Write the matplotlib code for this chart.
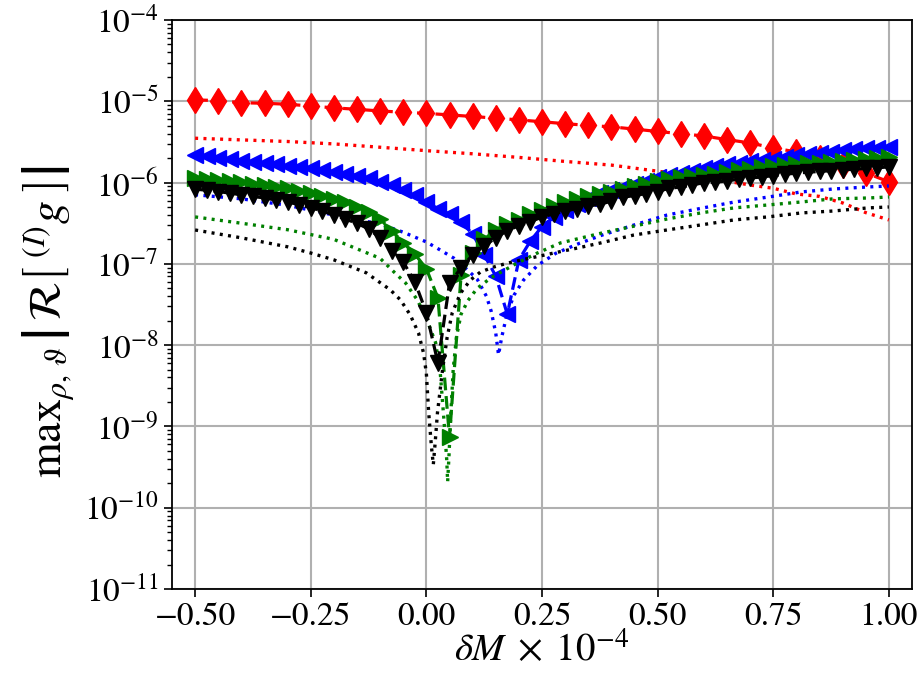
import matplotlib
matplotlib.use("Agg")
import matplotlib.pyplot as plt
from matplotlib.ticker import LogLocator, NullFormatter

plt.rcParams['font.family'] = ['STIXGeneral', 'DejaVu Serif']
plt.rcParams['mathtext.fontset'] = 'stix'

# ---------------- data ----------------
dM_red = [-0.50, -0.45, -0.40, -0.35, -0.30, -0.25, -0.20, -0.15, -0.10, -0.05,
          0.00, 0.05, 0.10, 0.15, 0.20, 0.25, 0.30, 0.35, 0.40, 0.45,
          0.50, 0.55, 0.60, 0.65, 0.70, 0.75, 0.80, 0.85, 0.90, 0.95, 1.00]
red_dashed = [1.04e-5, 1.02e-5, 9.6e-6, 9.45e-6, 9.2e-6, 8.75e-6, 8.3e-6, 7.97e-6, 7.6e-6, 7.33e-6,
              7.1e-6, 6.8e-6, 6.5e-6, 6.2e-6, 5.9e-6, 5.6e-6, 5.3e-6, 5.05e-6, 4.85e-6, 4.55e-6,
              4.25e-6, 4.0e-6, 3.74e-6, 3.38e-6, 3.07e-6, 2.67e-6, 2.38e-6, 2.0e-6, 1.65e-6, 1.32e-6, 1.02e-6]

dM_tri = [-0.500, -0.475, -0.450, -0.425, -0.400, -0.375, -0.350, -0.325, -0.300, -0.275,
          -0.250, -0.225, -0.200, -0.175, -0.150, -0.125, -0.100, -0.075, -0.050, -0.025,
          0.000, 0.025, 0.050, 0.075, 0.100, 0.125, 0.150, 0.175, 0.200, 0.225,
          0.250, 0.275, 0.300, 0.325, 0.350, 0.375, 0.400, 0.425, 0.450, 0.475,
          0.500, 0.525, 0.550, 0.575, 0.600, 0.625, 0.650, 0.675, 0.700, 0.725,
          0.750, 0.775, 0.800, 0.825, 0.850, 0.875, 0.900, 0.925, 0.950, 0.975, 1.000]

blue_dashed = [2.19e-6, 2.10e-6, 2.02e-6, 1.94e-6, 1.85e-6, 1.78e-6, 1.72e-6, 1.67e-6, 1.61e-6, 1.56e-6,
               1.51e-6, 1.44e-6, 1.36e-6, 1.29e-6, 1.22e-6, 1.14e-6, 1.03e-6, 9.23e-7, 8.13e-7, 7.08e-7,
               5.75e-7, 4.79e-7, 4.07e-7, 3.24e-7, 2.34e-7, 1.29e-7, 7.08e-8, 2.40e-8, 1.12e-7, 1.91e-7,
               2.88e-7, 3.72e-7, 4.57e-7, 5.50e-7, 6.46e-7, 7.41e-7, 8.13e-7, 8.91e-7, 9.55e-7, 1.06e-6,
               1.17e-6, 1.24e-6, 1.31e-6, 1.39e-6, 1.50e-6, 1.62e-6, 1.70e-6, 1.76e-6, 1.83e-6, 1.90e-6,
               1.97e-6, 2.07e-6, 2.18e-6, 2.25e-6, 2.32e-6, 2.40e-6, 2.49e-6, 2.59e-6, 2.64e-6, 2.69e-6, 2.74e-6]

green_dashed = [1.14e-6, 1.11e-6, 1.08e-6, 1.04e-6, 1.01e-6, 9.70e-7, 9.33e-7, 8.91e-7, 8.47e-7, 7.94e-7,
                7.41e-7, 6.84e-7, 6.31e-7, 5.69e-7, 5.07e-7, 4.37e-7, 3.55e-7, 2.57e-7, 1.82e-7, 1.32e-7,
                8.71e-8, 3.80e-8, 7.41e-10, 7.24e-8, 1.35e-7, 2.00e-7, 2.63e-7, 3.09e-7, 3.47e-7, 4.07e-7,
                4.62e-7, 5.13e-7, 5.69e-7, 6.31e-7, 6.76e-7, 7.24e-7, 7.67e-7, 8.32e-7, 9.02e-7, 9.66e-7,
                1.04e-6, 1.11e-6, 1.16e-6, 1.20e-6, 1.24e-6, 1.29e-6, 1.36e-6, 1.41e-6, 1.48e-6, 1.55e-6,
                1.60e-6, 1.65e-6, 1.70e-6, 1.73e-6, 1.76e-6, 1.80e-6, 1.83e-6, 1.87e-6, 1.93e-6, 2.00e-6, 2.07e-6]

black_dashed = [8.32e-7, 8.04e-7, 7.76e-7, 7.41e-7, 7.08e-7, 6.76e-7, 6.46e-7, 6.10e-7, 5.75e-7, 5.37e-7,
                4.90e-7, 4.47e-7, 3.98e-7, 3.55e-7, 3.16e-7, 2.69e-7, 2.09e-7, 1.45e-7, 1.05e-7, 6.03e-8,
                2.51e-8, 6.03e-9, 5.75e-8, 8.91e-8, 1.29e-7, 1.66e-7, 2.09e-7, 2.57e-7, 2.95e-7, 3.31e-7,
                3.76e-7, 4.12e-7, 4.47e-7, 4.79e-7, 5.13e-7, 5.43e-7, 5.89e-7, 6.61e-7, 6.92e-7, 7.33e-7,
                7.76e-7, 8.51e-7, 8.81e-7, 9.33e-7, 1.00e-6, 1.01e-6, 1.05e-6, 1.10e-6, 1.14e-6, 1.17e-6,
                1.22e-6, 1.26e-6, 1.31e-6, 1.34e-6, 1.37e-6, 1.40e-6, 1.43e-6, 1.46e-6, 1.49e-6, 1.52e-6, 1.56e-6]

dM_red_dot = [-0.5, -0.4, -0.3, -0.2, -0.1, 0.0, 0.1, 0.2, 0.3, 0.4, 0.5, 0.6, 0.7, 0.75, 0.8, 0.85, 0.9, 0.95, 1.0]
red_dotted = [3.51e-6, 3.35e-6, 3.20e-6, 2.99e-6, 2.72e-6, 2.47e-6, 2.26e-6, 2.04e-6, 1.82e-6, 1.64e-6,
              1.38e-6, 1.16e-6, 9.33e-7, 8.51e-7, 7.24e-7, 6.76e-7, 5.62e-7, 4.27e-7, 3.47e-7]

dM_blue_dot = [-0.5, -0.4, -0.3, -0.2, -0.1, -0.05, 0.0, 0.03, 0.06, 0.09, 0.11, 0.13, 0.14, 0.15, 0.156,
               0.163, 0.175, 0.19, 0.21, 0.24, 0.28, 0.33, 0.38, 0.45, 0.52, 0.6, 0.665, 0.74, 0.81, 0.88, 0.955, 1.0]
blue_dotted = [7.08e-7, 6.31e-7, 5.25e-7, 3.98e-7, 3.09e-7, 2.45e-7, 1.86e-7, 1.48e-7, 1.17e-7, 8.32e-8,
               6.46e-8, 3.98e-8, 2.63e-8, 1.41e-8, 7.59e-9, 1.26e-8, 2.51e-8, 4.17e-8, 6.31e-8, 9.55e-8,
               1.35e-7, 1.78e-7, 2.26e-7, 3.02e-7, 3.98e-7, 4.90e-7, 5.75e-7, 6.65e-7, 7.66e-7, 8.34e-7, 8.83e-7, 9.08e-7]

dM_green_dot = [-0.5, -0.4, -0.3, -0.2, -0.1, -0.07, -0.045, -0.02, 0.0, 0.02, 0.03, 0.038, 0.044, 0.046,
                0.049, 0.053, 0.058, 0.065, 0.075, 0.09, 0.11, 0.14, 0.19, 0.24, 0.29, 0.38, 0.45, 0.52,
                0.593, 0.665, 0.738, 0.81, 0.88, 0.955, 1.0]
green_dotted = [3.78e-7, 3.16e-7, 2.63e-7, 2.00e-7, 1.17e-7, 7.94e-8, 5.82e-8, 3.63e-8, 2.14e-8, 1.07e-8,
                4.57e-9, 1.20e-9, 3.89e-10, 2.09e-10, 4.47e-10, 1.48e-9, 5.01e-9, 1.26e-8, 2.40e-8, 3.55e-8,
                5.01e-8, 6.76e-8, 9.77e-8, 1.36e-7, 1.81e-7, 2.40e-7, 2.92e-7, 3.56e-7, 4.23e-7, 4.88e-7,
                5.30e-7, 5.77e-7, 6.31e-7, 6.46e-7, 6.65e-7]

dM_black_dot = [-0.5, -0.4, -0.3, -0.25, -0.2, -0.13, -0.078, -0.056, -0.035, -0.017, -0.006, 0.0, 0.005,
                0.011, 0.015, 0.019, 0.024, 0.035, 0.045, 0.056, 0.074, 0.095, 0.117, 0.145, 0.175, 0.2,
                0.24, 0.286, 0.33, 0.377, 0.448, 0.52, 0.593, 0.665, 0.738, 0.81, 0.88, 0.955, 1.0]
black_dotted = [2.61e-7, 2.09e-7, 1.62e-7, 1.36e-7, 1.12e-7, 7.76e-8, 4.79e-8, 3.60e-8, 2.36e-8, 1.41e-8,
                7.94e-9, 4.47e-9, 1.48e-9, 5.62e-10, 3.39e-10, 6.31e-10, 1.48e-9, 5.01e-9, 1.26e-8, 2.51e-8,
                4.37e-8, 6.31e-8, 7.94e-8, 9.12e-8, 1.02e-7, 1.10e-7, 1.23e-7, 1.40e-7, 1.58e-7, 1.81e-7,
                2.26e-7, 2.61e-7, 3.01e-7, 3.47e-7, 3.78e-7, 4.23e-7, 4.47e-7, 4.88e-7, 5.01e-7]

# ---------------- figure ----------------
W, H = 917, 675
fig = plt.figure(figsize=(W / 100, H / 100), dpi=100)
ax = fig.add_axes([172 / W, 1 - 589 / H, (912 - 172) / W, (589 - 20) / H])

lw = 2.3
ms = 11.5
dash = (0, (4.0, 1.8))
dot = (0, (0.9, 1.6))
ax.plot(dM_red, red_dashed, ls=dash, color='red', lw=lw, marker='d', ms=ms + 2, mec='red')
ax.plot(dM_red_dot, red_dotted, ls=dot, color='red', lw=2.4)
ax.plot(dM_tri, blue_dashed, ls=dash, color='blue', lw=lw, marker='<', ms=ms, mec='blue')
ax.plot(dM_blue_dot, blue_dotted, ls=dot, color='blue', lw=2.4)
ax.plot(dM_tri, green_dashed, ls=dash, color='green', lw=lw, marker='>', ms=ms, mec='green')
ax.plot(dM_green_dot, green_dotted, ls=dot, color='green', lw=2.4)
ax.plot(dM_tri, black_dashed, ls=dash, color='black', lw=lw, marker='v', ms=ms, mec='black')
ax.plot(dM_black_dot, black_dotted, ls=dot, color='black', lw=2.4)

ax.set_yscale('log')
ax.set_xlim(-0.55, 1.05)
ax.set_ylim(1e-11, 1e-4)
ax.set_xticks([-0.50, -0.25, 0.00, 0.25, 0.50, 0.75, 1.00])
ax.yaxis.set_major_locator(LogLocator(base=10, numticks=20))
ax.yaxis.set_minor_locator(LogLocator(base=10, subs=range(2, 10), numticks=20))
ax.yaxis.set_minor_formatter(NullFormatter())

ax.grid(True, which='major', color='#b0b0b0', lw=1.5)
ax.tick_params(axis='both', which='major', labelsize=24, length=6, width=1.2, direction='out')
ax.tick_params(axis='y', which='minor', length=3.5, width=1.0)
for s in ax.spines.values():
    s.set_linewidth(1.3)

ax.set_xlabel(r'$\delta M \;\times\; 10^{-4}$', fontsize=28, labelpad=0)
ax.set_ylabel(r'$\mathrm{max}_{\rho,\,\vartheta}\,\left|\,\mathcal{R}\left[\;{}^{(I)}g\;\right]\right|$',
              fontsize=33)
ax.yaxis.set_label_coords(-0.128, 0.47)

fig.savefig('out.png', dpi=100)
